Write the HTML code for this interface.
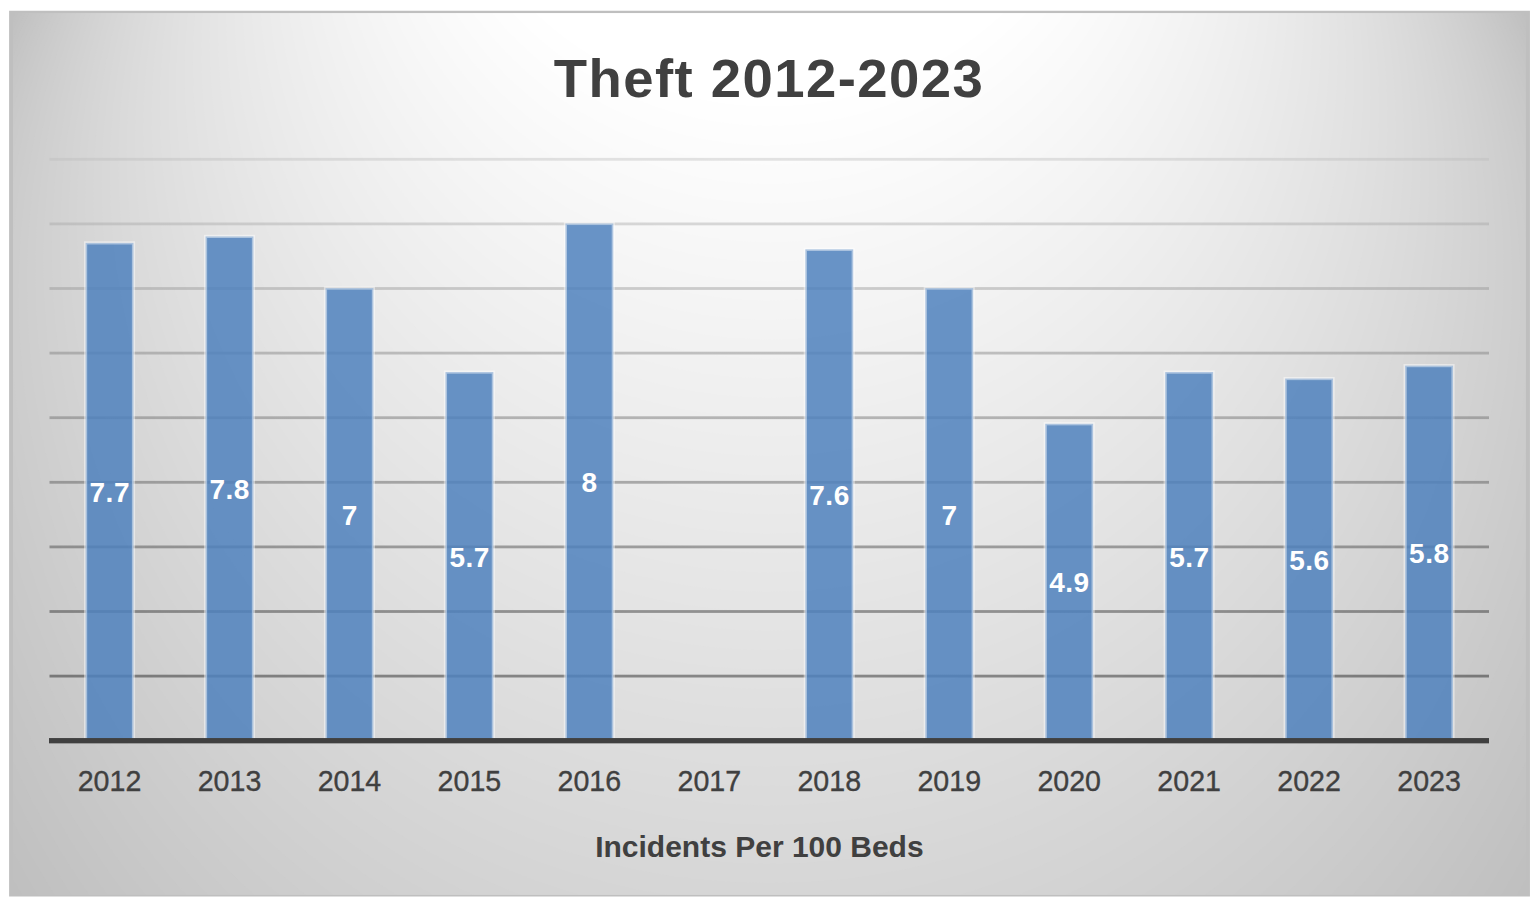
<!DOCTYPE html>
<html><head><meta charset="utf-8"><title>Theft 2012-2023</title>
<style>
html,body{margin:0;padding:0;background:#fff;}
body{width:1536px;height:902px;overflow:hidden;font-family:"Liberation Sans",sans-serif;}
svg{display:block;position:absolute;left:0;top:0;}
text{font-family:"Liberation Sans",sans-serif;}
.yr{font-size:28.6px;fill:#404040;stroke:#404040;stroke-width:0.35px;text-anchor:middle;}
.dl{font-size:28px;fill:#fff;font-weight:bold;text-anchor:middle;letter-spacing:0.5px;}
.ttl{font-size:54.5px;fill:#404040;font-weight:bold;text-anchor:middle;letter-spacing:1.42px;}
.ax{font-size:30px;fill:#404040;font-weight:bold;text-anchor:middle;letter-spacing:0.0px;}
</style></head><body>
<svg width="1536" height="902" viewBox="0 0 1536 902">
<defs>
<clipPath id="bc"><rect x="0" y="0" width="1536" height="740.70"/></clipPath>
<clipPath id="cp"><rect x="5" y="6" width="1529" height="894"/></clipPath>
<linearGradient id="gl" gradientUnits="userSpaceOnUse" x1="0" y1="159.30" x2="0" y2="676.10">
<stop offset="0" stop-color="#bcbcbc"/><stop offset="1" stop-color="#000000"/>
</linearGradient>
</defs>
<rect x="0" y="0" width="1536" height="902" fill="#fff"/>
<!-- chart area: focal radial gradient (white 0-39% -> #bfbfbf) drawn as nested iso-ellipses -->
<g clip-path="url(#cp)">
<rect x="4.1" y="5.75" width="1530.8500000000001" height="895.8" fill="#bfbfbf"/>
<ellipse cx="769.53" cy="448.16" rx="867.29" ry="881.58" fill="#c0c0c0"/>
<ellipse cx="769.53" cy="437.19" rx="858.99" ry="873.14" fill="#c1c1c1"/>
<ellipse cx="769.53" cy="426.21" rx="850.68" ry="864.69" fill="#c2c2c2"/>
<ellipse cx="769.53" cy="415.24" rx="842.38" ry="856.25" fill="#c3c3c3"/>
<ellipse cx="769.53" cy="404.26" rx="834.07" ry="847.81" fill="#c4c4c4"/>
<ellipse cx="769.53" cy="393.28" rx="825.76" ry="839.36" fill="#c5c5c5"/>
<ellipse cx="769.53" cy="382.31" rx="817.46" ry="830.92" fill="#c6c6c6"/>
<ellipse cx="769.53" cy="371.33" rx="809.15" ry="822.48" fill="#c7c7c7"/>
<ellipse cx="769.53" cy="360.36" rx="800.85" ry="814.04" fill="#c8c8c8"/>
<ellipse cx="769.53" cy="349.38" rx="792.54" ry="805.59" fill="#c9c9c9"/>
<ellipse cx="769.53" cy="338.41" rx="784.23" ry="797.15" fill="#cacaca"/>
<ellipse cx="769.53" cy="327.43" rx="775.93" ry="788.71" fill="#cbcbcb"/>
<ellipse cx="769.53" cy="316.45" rx="767.62" ry="780.27" fill="#cccccc"/>
<ellipse cx="769.53" cy="305.48" rx="759.32" ry="771.82" fill="#cdcdcd"/>
<ellipse cx="769.53" cy="294.50" rx="751.01" ry="763.38" fill="#cecece"/>
<ellipse cx="769.53" cy="283.53" rx="742.70" ry="754.94" fill="#cfcfcf"/>
<ellipse cx="769.53" cy="272.55" rx="734.40" ry="746.49" fill="#d0d0d0"/>
<ellipse cx="769.53" cy="261.58" rx="726.09" ry="738.05" fill="#d1d1d1"/>
<ellipse cx="769.53" cy="250.60" rx="717.79" ry="729.61" fill="#d2d2d2"/>
<ellipse cx="769.53" cy="239.63" rx="709.48" ry="721.17" fill="#d3d3d3"/>
<ellipse cx="769.53" cy="228.65" rx="701.17" ry="712.72" fill="#d4d4d4"/>
<ellipse cx="769.53" cy="217.67" rx="692.87" ry="704.28" fill="#d5d5d5"/>
<ellipse cx="769.53" cy="206.70" rx="684.56" ry="695.84" fill="#d6d6d6"/>
<ellipse cx="769.53" cy="195.72" rx="676.26" ry="687.39" fill="#d7d7d7"/>
<ellipse cx="769.53" cy="184.75" rx="667.95" ry="678.95" fill="#d8d8d8"/>
<ellipse cx="769.53" cy="173.77" rx="659.64" ry="670.51" fill="#d9d9d9"/>
<ellipse cx="769.53" cy="162.80" rx="651.34" ry="662.07" fill="#dadada"/>
<ellipse cx="769.53" cy="151.82" rx="643.03" ry="653.62" fill="#dbdbdb"/>
<ellipse cx="769.53" cy="140.84" rx="634.73" ry="645.18" fill="#dcdcdc"/>
<ellipse cx="769.53" cy="129.87" rx="626.42" ry="636.74" fill="#dddddd"/>
<ellipse cx="769.53" cy="118.89" rx="618.11" ry="628.30" fill="#dedede"/>
<ellipse cx="769.53" cy="107.92" rx="609.81" ry="619.85" fill="#dfdfdf"/>
<ellipse cx="769.53" cy="96.94" rx="601.50" ry="611.41" fill="#e0e0e0"/>
<ellipse cx="769.53" cy="85.97" rx="593.20" ry="602.97" fill="#e1e1e1"/>
<ellipse cx="769.53" cy="74.99" rx="584.89" ry="594.52" fill="#e2e2e2"/>
<ellipse cx="769.53" cy="64.02" rx="576.58" ry="586.08" fill="#e3e3e3"/>
<ellipse cx="769.53" cy="53.04" rx="568.28" ry="577.64" fill="#e4e4e4"/>
<ellipse cx="769.53" cy="42.06" rx="559.97" ry="569.20" fill="#e5e5e5"/>
<ellipse cx="769.53" cy="31.09" rx="551.67" ry="560.75" fill="#e6e6e6"/>
<ellipse cx="769.53" cy="20.11" rx="543.36" ry="552.31" fill="#e7e7e7"/>
<ellipse cx="769.53" cy="9.14" rx="535.05" ry="543.87" fill="#e8e8e8"/>
<ellipse cx="769.53" cy="-1.84" rx="526.75" ry="535.42" fill="#e9e9e9"/>
<ellipse cx="769.53" cy="-12.81" rx="518.44" ry="526.98" fill="#eaeaea"/>
<ellipse cx="769.53" cy="-23.79" rx="510.14" ry="518.54" fill="#ebebeb"/>
<ellipse cx="769.53" cy="-34.76" rx="501.83" ry="510.10" fill="#ececec"/>
<ellipse cx="769.53" cy="-45.74" rx="493.52" ry="501.65" fill="#ededed"/>
<ellipse cx="769.53" cy="-56.72" rx="485.22" ry="493.21" fill="#eeeeee"/>
<ellipse cx="769.53" cy="-67.69" rx="476.91" ry="484.77" fill="#efefef"/>
<ellipse cx="769.53" cy="-78.67" rx="468.61" ry="476.33" fill="#f0f0f0"/>
<ellipse cx="769.53" cy="-89.64" rx="460.30" ry="467.88" fill="#f1f1f1"/>
<ellipse cx="769.53" cy="-100.62" rx="452.00" ry="459.44" fill="#f2f2f2"/>
<ellipse cx="769.53" cy="-111.59" rx="443.69" ry="451.00" fill="#f3f3f3"/>
<ellipse cx="769.53" cy="-122.57" rx="435.38" ry="442.55" fill="#f4f4f4"/>
<ellipse cx="769.53" cy="-133.55" rx="427.08" ry="434.11" fill="#f5f5f5"/>
<ellipse cx="769.53" cy="-144.52" rx="418.77" ry="425.67" fill="#f6f6f6"/>
<ellipse cx="769.53" cy="-155.50" rx="410.47" ry="417.23" fill="#f7f7f7"/>
<ellipse cx="769.53" cy="-166.47" rx="402.16" ry="408.78" fill="#f8f8f8"/>
<ellipse cx="769.53" cy="-177.45" rx="393.85" ry="400.34" fill="#f9f9f9"/>
<ellipse cx="769.53" cy="-188.42" rx="385.55" ry="391.90" fill="#fafafa"/>
<ellipse cx="769.53" cy="-199.40" rx="377.24" ry="383.45" fill="#fbfbfb"/>
<ellipse cx="769.53" cy="-210.37" rx="368.94" ry="375.01" fill="#fcfcfc"/>
<ellipse cx="769.53" cy="-221.35" rx="360.63" ry="366.57" fill="#fdfdfd"/>
<ellipse cx="769.53" cy="-232.33" rx="352.32" ry="358.13" fill="#fefefe"/>
<ellipse cx="769.53" cy="-243.30" rx="344.02" ry="349.68" fill="#ffffff"/>
<rect x="4.1" y="5.75" width="8.9" height="895.8" fill="#bfbfbf"/>
<rect x="1525.95" y="5.75" width="9.0" height="895.8" fill="#bfbfbf"/>
<rect x="4.1" y="5.75" width="1530.8500000000001" height="7.3" fill="#bfbfbf"/>
<rect x="4.1" y="894.9499999999999" width="1530.8500000000001" height="6.6" fill="#bfbfbf"/>
</g>
<path fill="#fff" d="M0 0H1536V902H0Z M9.1 10.75V896.55H1529.95V10.75Z"/>
<g opacity="0.4">
<rect x="49.5" y="157.90" width="1439.5" height="2.8" fill="url(#gl)"/>
<rect x="49.5" y="222.50" width="1439.5" height="2.8" fill="url(#gl)"/>
<rect x="49.5" y="287.10" width="1439.5" height="2.8" fill="url(#gl)"/>
<rect x="49.5" y="351.70" width="1439.5" height="2.8" fill="url(#gl)"/>
<rect x="49.5" y="416.30" width="1439.5" height="2.8" fill="url(#gl)"/>
<rect x="49.5" y="480.90" width="1439.5" height="2.8" fill="url(#gl)"/>
<rect x="49.5" y="545.50" width="1439.5" height="2.8" fill="url(#gl)"/>
<rect x="49.5" y="610.10" width="1439.5" height="2.8" fill="url(#gl)"/>
<rect x="49.5" y="674.70" width="1439.5" height="2.8" fill="url(#gl)"/>
</g>
<g clip-path="url(#bc)" fill="rgba(79,129,189,0.85)" stroke="rgba(255,255,255,0.46)" stroke-width="3.2">
<rect x="85.58" y="242.88" width="47.9" height="500.82"/>
<rect x="205.54" y="236.42" width="47.9" height="507.28"/>
<rect x="325.50" y="288.10" width="47.9" height="455.60"/>
<rect x="445.45" y="372.08" width="47.9" height="371.62"/>
<rect x="565.41" y="223.50" width="47.9" height="520.20"/>
<rect x="805.33" y="249.34" width="47.9" height="494.36"/>
<rect x="925.29" y="288.10" width="47.9" height="455.60"/>
<rect x="1045.25" y="423.76" width="47.9" height="319.94"/>
<rect x="1165.20" y="372.08" width="47.9" height="371.62"/>
<rect x="1285.16" y="378.54" width="47.9" height="365.16"/>
<rect x="1405.12" y="365.62" width="47.9" height="378.08"/>
</g>
<rect x="49.0" y="738.05" width="1440.0" height="5.3" fill="#404040"/>
<text class="dl" x="109.78" y="501.99">7.7</text>
<text class="dl" x="229.74" y="498.76">7.8</text>
<text class="dl" x="349.70" y="524.60">7</text>
<text class="dl" x="469.65" y="566.59">5.7</text>
<text class="dl" x="589.61" y="492.30">8</text>
<text class="dl" x="829.53" y="505.22">7.6</text>
<text class="dl" x="949.49" y="524.60">7</text>
<text class="dl" x="1069.45" y="592.43">4.9</text>
<text class="dl" x="1189.40" y="566.59">5.7</text>
<text class="dl" x="1309.36" y="569.82">5.6</text>
<text class="dl" x="1429.32" y="563.36">5.8</text>
<text class="yr" x="109.53" y="791">2012</text>
<text class="yr" x="229.49" y="791">2013</text>
<text class="yr" x="349.45" y="791">2014</text>
<text class="yr" x="469.40" y="791">2015</text>
<text class="yr" x="589.36" y="791">2016</text>
<text class="yr" x="709.32" y="791">2017</text>
<text class="yr" x="829.28" y="791">2018</text>
<text class="yr" x="949.24" y="791">2019</text>
<text class="yr" x="1069.20" y="791">2020</text>
<text class="yr" x="1189.15" y="791">2021</text>
<text class="yr" x="1309.11" y="791">2022</text>
<text class="yr" x="1429.07" y="791">2023</text>
<text class="ttl" x="769.0" y="97.2">Theft 2012-2023</text>
<text class="ax" x="759.4" y="857.4">Incidents Per 100 Beds</text>
</svg>
</body></html>
